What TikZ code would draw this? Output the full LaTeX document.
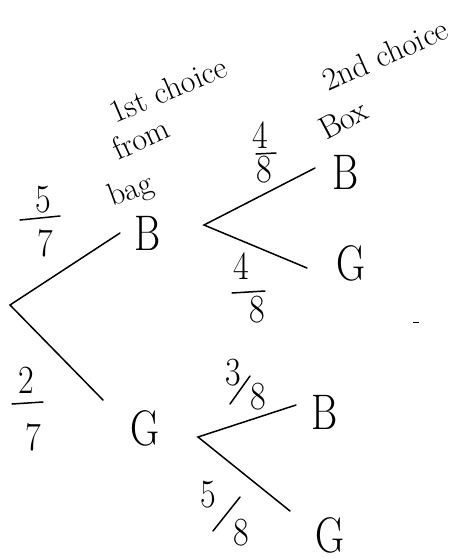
\documentclass[tikz,border=0pt]{standalone}
\begin{document}
\begin{tikzpicture}[x=1pt,y=-1pt,
  branch/.style={line width=1.5pt, line cap=round},
  bar/.style={line width=1.5pt, line cap=round},
  lab/.style={font=\fontsize{50}{50}\selectfont, inner sep=0pt, xscale=0.8},
  digit/.style={font=\fontsize{40}{40}\selectfont, inner sep=0pt, xscale=0.85},
  note/.style={font=\fontsize{32}{32}\selectfont, inner sep=0pt, anchor=base west}]
\useasboundingbox (0,0) rectangle (470,558);
% vertices
\coordinate (r) at (10,305);
\coordinate (rB) at (120,233);
\coordinate (rG) at (103,400);
\coordinate (b0) at (204,225);
\coordinate (bB) at (315,168);
\coordinate (bG) at (307,268);
\coordinate (g0) at (198,437);
\coordinate (gB) at (296,405);
\coordinate (gG) at (290,511);
% outcome nodes
\node[lab] (B1) at (148,233) {B};
\node[lab] (G1) at (145,428) {G};
\node[lab] (B2) at (346,172) {B};
\node[lab] (G2) at (351,263) {G};
\node[lab] (B3) at (325,412) {B};
\node[lab] (G3) at (330,535) {G};
% branches
\draw[branch] (rB) -- (r) -- (rG);
\draw[branch] (bB) -- (b0) -- (bG);
\draw[branch] (gB) -- (g0) -- (gG);
% 5/7
\node[digit] (p1n) at (43,200) {5};
\draw[bar] (20,220) -- (60,216);
\node[digit] (p1d) at (45,243) {7};
% 2/7
\node[digit] (p2n) at (26,380) {2};
\draw[bar] (12,404) -- (43,402);
\node[digit] (p2d) at (33,437) {7};
% 4/8 upper
\node[digit] (p3n) at (260,135) {4};
\draw[bar] (256,154) -- (276,153);
\node[digit] (p3d) at (264,170) {8};
% 4/8 lower
\node[digit] (p4n) at (241,266) {4};
\draw[bar] (232,293) -- (265,291);
\node[digit] (p4d) at (257,310) {8};
% 3/8 slanted
\node[digit] (p5n) at (233,373) {3};
\draw[bar] (230,404) -- (250,376);
\node[digit] (p5d) at (258,397) {8};
% 5/8 slanted
\node[digit] (p6n) at (208,495) {5};
\draw[bar] (213,531) -- (240,497);
\node[digit] (p6d) at (241,533) {8};
% headings
\node[note, rotate=23] (h1) at (115,124) {1st choice};
\node[note, rotate=25] (h2) at (118,161) {from};
\node[note, rotate=20] (h3) at (112,207) {bag};
\node[note, rotate=24] (h4) at (328,92) {2nd choice};
\node[note, rotate=28] (h5) at (326,141) {Box};
% stray mark
\draw[line width=1pt] (413,322) -- (419,322);
\end{tikzpicture}
\end{document}
